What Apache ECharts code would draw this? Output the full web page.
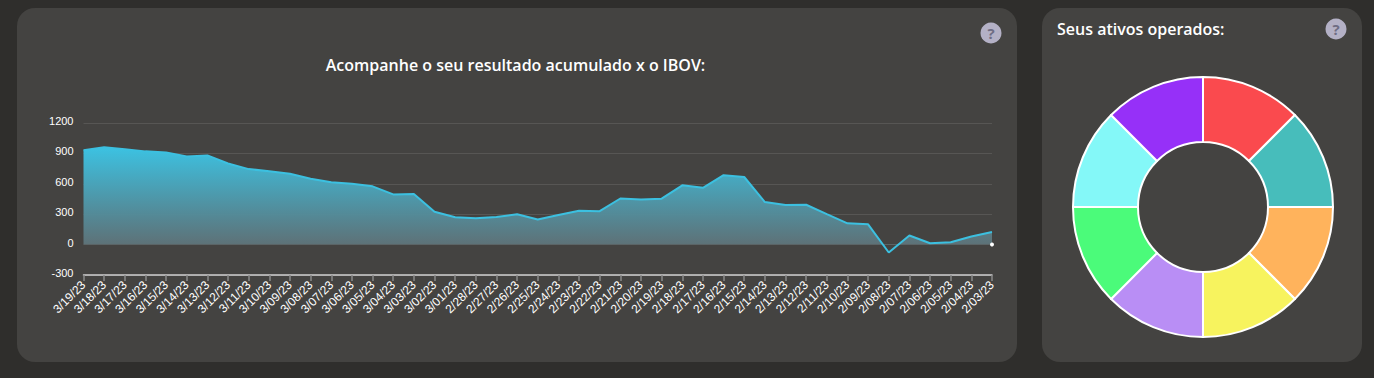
<!DOCTYPE html>
<html><head><meta charset="utf-8">
<style>html,body{margin:0;padding:0;background:#2f2e2c;}#c{width:1374px;height:378px;}</style>
<script src="https://cdn.jsdelivr.net/npm/echarts@6/dist/echarts.min.js"></script>
</head><body><div id="c"></div>
<script>
const dates=['3/19/23','3/18/23','3/17/23','3/16/23','3/15/23','3/14/23','3/13/23','3/12/23','3/11/23','3/10/23','3/09/23','3/08/23','3/07/23','3/06/23','3/05/23','3/04/23','3/03/23','3/02/23','3/01/23','2/28/23','2/27/23','2/26/23','2/25/23','2/24/23','2/23/23','2/22/23','2/21/23','2/20/23','2/19/23','2/18/23','2/17/23','2/16/23','2/15/23','2/14/23','2/13/23','2/12/23','2/11/23','2/10/23','2/09/23','2/08/23','2/07/23','2/06/23','2/05/23','2/04/23','2/03/23'];
const resultado=[930,960,940,920,910,870,880,800,745,725,700,650,615,600,575,495,500,325,270,260,273,300,247,293,335,330,455,445,453,585,560,685,667,420,390,393,300,210,200,-78,90,13,23,80,125];
const ibovPonto=dates.map((d,i)=>i===dates.length-1?0:null);
const ativos=['Ativo 1','Ativo 2','Ativo 3','Ativo 4','Ativo 5','Ativo 6','Ativo 7','Ativo 8'];
const participacao=[1,1,1,1,1,1,1,1];
const coresAtivos=['#fa4a4e','#47bdbb','#ffb35c','#f7f35e','#b98ef5','#4bfb7a','#84f8f8','#9630f8'];
const yTicks={min:-300,max:1200,interval:300};
const panel='#444341';
const maxV=Math.max(...resultado),minV=Math.min(...resultado),zeroStop=maxV/(maxV-minV);
function helpIcon(x,y){return {type:'group',x:x,y:y,children:[
 {type:'circle',shape:{cx:0,cy:0,r:10.5},style:{fill:'#b4b1c6'}},
 {type:'text',style:{x:0,y:0,text:'?',fill:'#6f6d84',font:'bold 15px "Open Sans"',align:'center',verticalAlign:'middle'}}]};}
const chart=echarts.init(document.getElementById('c'),null,{renderer:'svg'});
chart.setOption({
 animation:false,backgroundColor:'#2f2e2c',
 title:[
  {text:'Acompanhe o seu resultado acumulado x o IBOV:',left:515.5,top:64.5,textAlign:'center',textVerticalAlign:'middle',padding:0,textStyle:{color:'#fff',fontFamily:'Open Sans',fontWeight:600,fontSize:16}},
  {text:'Seus ativos operados:',left:1057,top:28.5,textVerticalAlign:'middle',padding:0,textStyle:{color:'#fff',fontFamily:'Open Sans',fontWeight:600,fontSize:16}}
 ],
 graphic:{elements:[
  {type:'rect',z:-10,shape:{x:17,y:8,width:1000,height:354,r:18},style:{fill:panel}},
  {type:'rect',z:-10,shape:{x:1042,y:8,width:320,height:354,r:18},style:{fill:panel}},
  helpIcon(991,33),helpIcon(1336,29)
 ]},
 grid:{left:83.5,right:382,top:123,bottom:103,containLabel:false},
 xAxis:{type:'category',data:dates,boundaryGap:false,
  axisLine:{onZero:false,lineStyle:{color:'#d0d0d0',width:1.5}},
  axisTick:{show:true,alignWithLabel:true,length:6,lineStyle:{color:'#8a8a8a',width:1.5}},
  axisLabel:{interval:0,rotate:45,color:'#fff',fontFamily:'Liberation Sans',fontSize:12,margin:8,hideOverlap:false},
  splitLine:{show:false}},
 yAxis:{type:'value',min:yTicks.min,max:yTicks.max,interval:yTicks.interval,
  axisLine:{show:false},axisTick:{show:false},
  axisLabel:{color:'#fff',fontFamily:'Liberation Sans',fontSize:11,margin:10,verticalAlign:'bottom',lineHeight:4,formatter:v=>String(v)},
  splitLine:{show:true,lineStyle:{color:'#575654',width:1}}},
 tooltip:{show:false},
 series:[
  {name:'Resultado',type:'line',data:resultado,smooth:false,symbol:'none',z:3,
   lineStyle:{color:'#3cc0e0',width:2},
   areaStyle:{opacity:1,color:new echarts.graphic.LinearGradient(0,0,0,1,[
     {offset:0,color:'rgba(60,194,226,1)'},
     {offset:zeroStop,color:'rgba(95,116,122,0.95)'},
     {offset:zeroStop,color:'rgba(0,0,0,0)'},
     {offset:1,color:'rgba(0,0,0,0)'}])}},
  {name:'IBOV',type:'line',data:ibovPonto,symbol:'circle',symbolSize:4,showSymbol:true,z:4,
   itemStyle:{color:'#fff'},lineStyle:{width:0}},
  {name:'Ativos',type:'pie',center:[1203,207],radius:[65,130],startAngle:90,clockwise:true,
   label:{show:false},labelLine:{show:false},emphasis:{disabled:true},
   data:ativos.map((n,i)=>({name:n,value:participacao[i],itemStyle:{color:coresAtivos[i],borderColor:'#fff',borderWidth:2}}))}
 ]
});
</script></body></html>
